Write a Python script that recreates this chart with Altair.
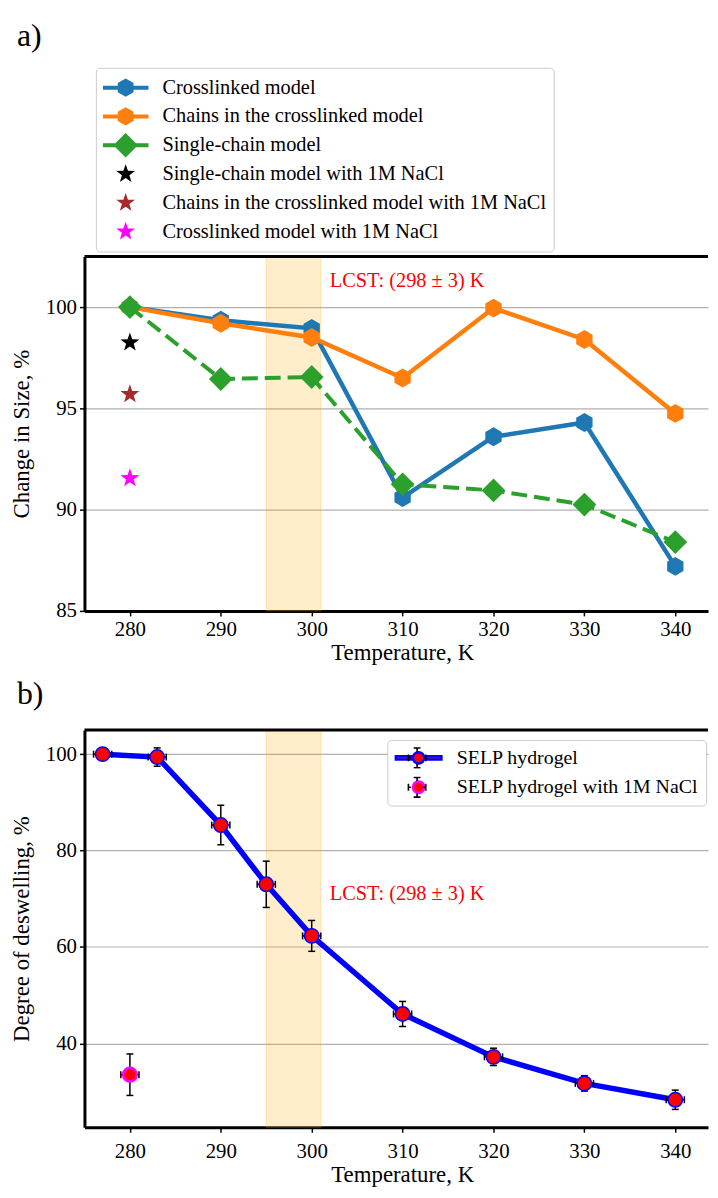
import math
import altair as alt
import pandas as pd

FONT = "Liberation Serif"

# ---------------- data: panel a ----------------
temps_a = [280, 290, 300, 310, 320, 330, 340]
crosslinked = [100.0, 99.35, 98.95, 90.6, 93.6, 94.3, 87.2]
chains = [100.0, 99.2, 98.5, 96.5, 99.95, 98.4, 94.75]
single_chain = [100.0, 96.45, 96.55, 91.25, 90.95, 90.25, 88.4]
nacl_temps_a = [280, 280, 280]
nacl_values_a = [98.25, 95.7, 91.55]
nacl_colors_a = ["black", "#a52a2a", "magenta"]
series_a = ["Crosslinked model", "Chains in the crosslinked model", "Single-chain model",
            "Single-chain model with 1M NaCl", "Chains in the crosslinked model with 1M NaCl",
            "Crosslinked model with 1M NaCl"]
colors_a = ["#1f77b4", "#ff7f0e", "#2ca02c", "black", "#a52a2a", "magenta"]
x_ticks = [280, 290, 300, 310, 320, 330, 340]
y_ticks_a = [85, 90, 95, 100]

# ---------------- data: panel b ----------------
temps_b = [277, 283, 290, 295, 300, 310, 320, 330, 340]
deswelling = [100.0, 99.4, 85.3, 73.0, 62.3, 46.1, 37.2, 31.7, 28.3]
deswelling_err = [0.5, 1.9, 4.1, 4.8, 3.2, 2.6, 1.8, 1.6, 2.0]
temps_b_err = [1.0, 1.0, 1.0, 1.0, 1.0, 1.0, 1.0, 1.0, 1.0]
nacl_temps_b = [280]
nacl_values_b = [33.5]
nacl_err_b = [4.3]
nacl_temps_err_b = [1.0]
series_b = ["SELP hydrogel", "SELP hydrogel with 1M NaCl"]
y_ticks_b = [40, 60, 80, 100]

lcst_center = [298]
lcst_half = [3]
lcst_text = "LCST: (298 \u00b1 3) K"

# ---------------- layout / style ----------------
W = 628
HA = 357
HB = 400
LAB = 21
TIT = 23
LEG = 20.5
LEGB = 20


def fmt(v):
    return f"{v:.3f}"


def poly(pts):
    return "M" + "L".join(f"{fmt(x)},{fmt(y)}" for x, y in pts) + "Z"


def hexagon(r):
    return poly([(r * math.sin(math.radians(60 * k)), -r * math.cos(math.radians(60 * k))) for k in range(6)])


def diamond(r):
    return poly([(0, -r), (r, 0), (0, r), (-r, 0)])


def star(r, inner=0.4):
    pts = []
    for k in range(10):
        rr = r if k % 2 == 0 else r * inner
        a = math.radians(36 * k)
        pts.append((rr * math.sin(a), -rr * math.cos(a)))
    return poly(pts)


def circle(r):
    return f"M{fmt(r)},0A{fmt(r)},{fmt(r)} 0 1,1 {fmt(-r)},0A{fmt(r)},{fmt(r)} 0 1,1 {fmt(r)},0Z"


def bar(x0, x1, t):
    return f"M{fmt(x0)},{fmt(-t)}H{fmt(x1)}V{fmt(t)}H{fmt(x0)}Z"


def vbar(y0, y1, t):
    return f"M{fmt(-t)},{fmt(y0)}H{fmt(t)}V{fmt(y1)}H{fmt(-t)}Z"


def rect(x0, y0, x1, y1):
    return f"M{fmt(x0)},{fmt(y0)}H{fmt(x1)}V{fmt(y1)}H{fmt(x0)}Z"


def cross(r, ey, ex, cap, t):
    # error-bar cross drawn only outside a marker of radius r
    return (vbar(-ey, -r, t) + vbar(r, ey, t) + bar(-ex, -r, t) + bar(r, ex, t)
            + rect(-cap, -ey - t, cap, -ey + t) + rect(-cap, ey - t, cap, ey + t)
            + rect(-ex - t, -cap, -ex + t, cap) + rect(ex - t, -cap, ex + t, cap))


x_scale = alt.Scale(domain=[275.0, 343.6], nice=False, zero=False)
ya_scale = alt.Scale(domain=[85, 102.5], nice=False, zero=False)
yb_scale = alt.Scale(domain=[22.6, 105], nice=False, zero=False)

x_axis_a = alt.Axis(title="Temperature, K", values=x_ticks, grid=False, titleX=320,
                    labelPadding=3, titlePadding=2)
x_axis_b = alt.Axis(title="Temperature, K", values=x_ticks, grid=False, titleX=320,
                    labelPadding=8, titlePadding=3)
ya_axis = alt.Axis(title="Change in Size, %", values=y_ticks_a, grid=True)
yb_axis = alt.Axis(title="Degree of deswelling, %", values=y_ticks_b, grid=True)


def XA(f):
    return alt.X(f, type="quantitative", scale=x_scale, axis=x_axis_a)


def XB(f):
    return alt.X(f, type="quantitative", scale=x_scale, axis=x_axis_b)


def YA(f):
    return alt.Y(f, type="quantitative", scale=ya_scale, axis=ya_axis)


def YB(f):
    return alt.Y(f, type="quantitative", scale=yb_scale, axis=yb_axis)


band_df = pd.DataFrame({"lo": [c - h for c, h in zip(lcst_center, lcst_half)],
                        "hi": [c + h for c, h in zip(lcst_center, lcst_half)],
                        "label": [lcst_text]})
one = pd.DataFrame({"k": [0]})

# ---------------- panel a ----------------
band_a = alt.Chart(band_df).mark_rect(fill="orange", fillOpacity=0.2, stroke="orange",
                                      strokeOpacity=0.25, strokeWidth=1).encode(
    x=XA("lo"), x2=alt.X2("hi"), y=alt.value(0), y2=alt.value(HA))
lcst_a = alt.Chart(band_df).mark_text(font=FONT, fontSize=LEG, color="red", align="left",
                                      baseline="middle", dx=9).encode(
    x=XA("hi"), y=alt.value(25), text="label:N")

hex_p = hexagon(1.0)
dia_p = diamond(1.0)
star_p = star(1.0)

layers_a = [band_a, lcst_a]
for vals, col, shp, size, dash, sw in [
    (crosslinked, "#1f77b4", hex_p, 361, None, 4.5),
    (chains, "#ff7f0e", hex_p, 361, None, 4.5),
    (single_chain, "#2ca02c", dia_p, 576, [16, 7], 4),
]:
    df = pd.DataFrame({"T": temps_a, "v": vals})
    lk = dict(color=col, strokeWidth=sw)
    if dash:
        lk["strokeDash"] = dash
    layers_a.append(alt.Chart(df).mark_line(**lk).encode(x=XA("T"), y=YA("v")))
    layers_a.append(alt.Chart(df).mark_point(shape=shp, size=size, filled=True, color=col,
                                             opacity=1).encode(x=XA("T"), y=YA("v")))

stars_df = pd.DataFrame({"T": nacl_temps_a, "v": nacl_values_a, "c": nacl_colors_a})
layers_a.append(alt.Chart(stars_df).mark_point(shape=star_p, size=400, filled=True, opacity=1).encode(
    x=XA("T"), y=YA("v"), color=alt.Color("c:N", scale=None)))

legend_paths_a = [
    bar(-1, 1, 0.087) + hexagon(0.40),
    bar(-1, 1, 0.087) + hexagon(0.40),
    bar(-1, 1, 0.087) + diamond(0.54),
    star(0.43), star(0.43), star(0.43),
]
legend_a = alt.Legend(title=None, orient="none", legendX=11.5, legendY=-190,
                      labelFont=FONT, labelFontSize=LEG, labelColor="black", labelLimit=1000,
                      symbolSize=2116, symbolStrokeWidth=0, symbolOpacity=1,
                      clipHeight=26, rowPadding=3, padding=7, labelOffset=14,
                      strokeColor="#cccccc", fillColor="white", cornerRadius=4)
leg_a_df = pd.DataFrame({"series": series_a, "T": [temps_a[0]] * 6, "v": [None] * 6})
layers_a.append(alt.Chart(leg_a_df).mark_point(filled=True, opacity=1).encode(
    x=XA("T"), y=YA("v"),
    color=alt.Color("series:N", scale=alt.Scale(domain=series_a, range=colors_a), legend=legend_a),
    shape=alt.Shape("series:N", scale=alt.Scale(domain=series_a, range=legend_paths_a), legend=legend_a)))

layers_a.append(alt.Chart(one).mark_rule(color="black", strokeWidth=3).encode(
    x=alt.value(0), x2=alt.value(W), y=alt.value(0)))
layers_a.append(alt.Chart(pd.DataFrame({"t": ["a)"]})).mark_text(
    font=FONT, fontSize=32, align="left", baseline="middle", color="black").encode(
    x=alt.value(-68), y=alt.value(-222), text="t:N"))

panel_a = alt.layer(*layers_a).properties(width=W, height=HA)

# ---------------- panel b ----------------
band_b = alt.Chart(band_df).mark_rect(fill="orange", fillOpacity=0.2, stroke="orange",
                                      strokeOpacity=0.25, strokeWidth=1).encode(
    x=XB("lo"), x2=alt.X2("hi"), y=alt.value(0), y2=alt.value(HB))
lcst_b = alt.Chart(band_df).mark_text(font=FONT, fontSize=LEG, color="red", align="left",
                                      baseline="middle", dx=9).encode(
    x=XB("hi"), y=alt.value(165), text="label:N")

main_df = pd.DataFrame({"T": temps_b, "v": deswelling, "e": deswelling_err, "xe": temps_b_err})
nacl_df = pd.DataFrame({"T": nacl_temps_b, "v": nacl_values_b, "e": nacl_err_b, "xe": nacl_temps_err_b})
for d in (main_df, nacl_df):
    d["lo"] = d["v"] - d["e"]
    d["hi"] = d["v"] + d["e"]
    d["xlo"] = d["T"] - d["xe"]
    d["xhi"] = d["T"] + d["xe"]


def errorbars(d):
    out = []
    out.append(alt.Chart(d).mark_rule(color="black", strokeWidth=1.5).encode(
        x=XB("T"), y=YB("lo"), y2=alt.Y2("hi")))
    out.append(alt.Chart(d).mark_rule(color="black", strokeWidth=1.5).encode(
        x=XB("xlo"), x2=alt.X2("xhi"), y=YB("v")))
    for f in ("lo", "hi"):
        out.append(alt.Chart(d).mark_tick(orient="horizontal", size=7, thickness=1.5,
                                          color="black", opacity=1).encode(x=XB("T"), y=YB(f)))
    for f in ("xlo", "xhi"):
        out.append(alt.Chart(d).mark_tick(orient="vertical", size=7, thickness=1.5,
                                          color="black", opacity=1).encode(x=XB(f), y=YB("v")))
    return out


layers_b = [band_b, lcst_b]
layers_b.append(alt.Chart(main_df).mark_line(color="blue", strokeWidth=5.5).encode(x=XB("T"), y=YB("v")))
layers_b += errorbars(main_df)
layers_b.append(alt.Chart(main_df).mark_point(shape="circle", size=210, filled=True, fill="red",
                                              stroke="blue", strokeWidth=1.5, opacity=1).encode(
    x=XB("T"), y=YB("v")))
layers_b += errorbars(nacl_df)
layers_b.append(alt.Chart(nacl_df).mark_point(shape="circle", size=190, filled=True, fill="red",
                                              stroke="magenta", strokeWidth=2.5, opacity=1).encode(
    x=XB("T"), y=YB("v")))

legend_paths_b = [
    bar(-1, -0.28, 0.07) + bar(0.28, 1, 0.07) + circle(0.25),
    circle(0.25),
]
common_b = dict(title=None, orient="none", legendX=305, legendY=10,
                labelFont=FONT, labelFontSize=LEGB, labelLimit=1000,
                symbolSize=2116, symbolOpacity=1,
                clipHeight=22, rowPadding=7.6, padding=7, labelOffset=14)
legend_b = alt.Legend(labelColor="black", symbolStrokeWidth=2.5,
                      strokeColor="#cccccc", fillColor="white", cornerRadius=4, **common_b)

cross_p = cross(0.27, 0.43, 0.38, 0.15, 0.035)
legend_c = alt.Legend(labelColor="black", labelExpr="''", symbolStrokeWidth=0,
                      symbolType=cross_p, symbolFillColor="black", symbolStrokeColor="black",
                      **common_b)

leg_b_df = pd.DataFrame({"series_b": series_b, "T": [temps_b[0]] * 2, "v": [None] * 2})
layers_b.append(alt.Chart(leg_b_df).mark_point(filled=True, opacity=1).encode(
    x=XB("T"), y=YB("v"),
    fill=alt.Fill("series_b:N", scale=alt.Scale(domain=series_b, range=["red", "red"]), legend=legend_b),
    stroke=alt.Stroke("series_b:N", scale=alt.Scale(domain=series_b, range=["blue", "magenta"]), legend=legend_b),
    shape=alt.Shape("series_b:N", scale=alt.Scale(domain=series_b, range=legend_paths_b), legend=legend_b)))

cross_keys = ["e1", "e2"]
leg_c_df = pd.DataFrame({"series_c": cross_keys, "T": [temps_b[0]] * 2, "v": [None] * 2})
layers_b.append(alt.Chart(leg_c_df).mark_point(filled=True, color="black", shape=cross_p).encode(
    x=XB("T"), y=YB("v"),
    opacity=alt.Opacity("series_c:N", scale=alt.Scale(domain=cross_keys, range=[1, 1]), legend=legend_c)))

layers_b.append(alt.Chart(one).mark_rule(color="black", strokeWidth=3).encode(
    x=alt.value(0), x2=alt.value(W), y=alt.value(0)))
layers_b.append(alt.Chart(pd.DataFrame({"t": ["b)"]})).mark_text(
    font=FONT, fontSize=32, align="left", baseline="middle", color="black").encode(
    x=alt.value(-68), y=alt.value(-36), text="t:N"))

panel_b = alt.layer(*layers_b).properties(width=W, height=HB)

chart = alt.vconcat(panel_a, panel_b, spacing=14).resolve_scale(
    color="independent", shape="independent", fill="independent", stroke="independent",
    opacity="independent"
).resolve_legend(
    color="independent", shape="independent", fill="independent", stroke="independent",
    opacity="independent"
).properties(
    padding={"left": 2, "top": 8, "right": 0, "bottom": 0}
).configure_view(stroke=None).configure_axis(
    labelFont=FONT, labelFontSize=LAB, labelColor="black",
    titleFont=FONT, titleFontSize=TIT, titleFontWeight="normal", titleColor="black",
    domainColor="black", domainWidth=3, tickColor="black", tickWidth=1.5, tickSize=5,
    gridColor="#b0b0b0", gridWidth=1.2,
).configure_axisY(titlePadding=12, labelPadding=3)

chart.save("out.html", embed_options={"renderer": "svg", "actions": False})
